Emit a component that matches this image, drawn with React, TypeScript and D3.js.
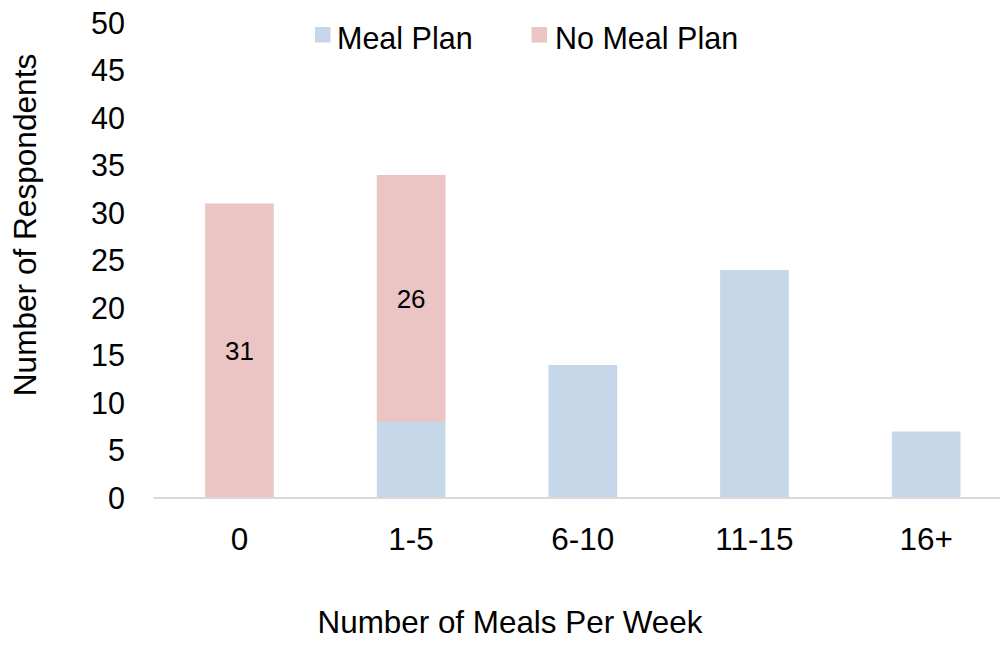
import React from "react";
import * as d3 from "d3";

// Respondents by weekly meals eaten, split by meal-plan status
const categories = ["0", "1-5", "6-10", "11-15", "16+"];
const mealPlan = [0, 8, 14, 24, 7];
const noMealPlan = [31, 26, 0, 0, 0];
const yTicks = [0, 5, 10, 15, 20, 25, 30, 35, 40, 45, 50];
const seriesNames = ["Meal Plan", "No Meal Plan"];
const seriesColors = ["#c5d7e8", "#ebc4c4"];

const W = 1000;
const H = 647;
const FONT = "'Liberation Sans', Arial, sans-serif";

export default function App() {
  const x = d3
    .scaleBand<string>()
    .domain(categories)
    .range([153.6, 1012])
    .paddingInner(0.6)
    .paddingOuter(0.3);
  const y = d3.scaleLinear().domain([0, 50]).range([498, 23]);

  const rows = categories.map((c, i) => ({
    cat: c,
    "Meal Plan": mealPlan[i],
    "No Meal Plan": noMealPlan[i],
  }));
  const stacked = d3.stack<any>().keys(seriesNames)(rows);

  return (
    <svg
      width={W}
      height={H}
      style={{ position: "absolute", left: 0, top: 0, background: "#fff" }}
      fontFamily={FONT}
    >
      {/* y tick labels */}
      {yTicks.map((t) => (
        <text
          key={t}
          x={125}
          y={y(t)}
          dy="0.36em"
          textAnchor="end"
          fontSize={30.5}
          fill="#000"
        >
          {t}
        </text>
      ))}

      {/* bars */}
      {stacked.map((layer, si) => (
        <g key={seriesNames[si]} fill={seriesColors[si]}>
          {layer.map((d, i) =>
            d[1] - d[0] > 0 ? (
              <rect
                key={i}
                x={x(categories[i])}
                y={y(d[1])}
                width={x.bandwidth()}
                height={y(d[0]) - y(d[1])}
              />
            ) : null
          )}
        </g>
      ))}

      {/* data labels on the No Meal Plan segments */}
      {stacked[1].map((d, i) =>
        noMealPlan[i] > 0 ? (
          <text
            key={i}
            x={(x(categories[i]) as number) + x.bandwidth() / 2}
            y={(y(d[0]) + y(d[1])) / 2}
            dy="0.36em"
            textAnchor="middle"
            fontSize={26}
            fill="#000"
          >
            {noMealPlan[i]}
          </text>
        ) : null
      )}

      {/* baseline */}
      <line x1={153.6} x2={1012} y1={y(0)} y2={y(0)} stroke="#d9d9d9" strokeWidth={2} />

      {/* x tick labels */}
      {categories.map((c) => (
        <text
          key={c}
          x={(x(c) as number) + x.bandwidth() / 2}
          y={550}
          textAnchor="middle"
          fontSize={31.5}
          fill="#000"
        >
          {c}
        </text>
      ))}

      {/* axis titles */}
      <text x={510} y={633} textAnchor="middle" fontSize={31.4} fill="#000">
        Number of Meals Per Week
      </text>
      <text
        transform={`translate(36,225) rotate(-90)`}
        textAnchor="middle"
        fontSize={31.6}
        fill="#000"
      >
        Number of Respondents
      </text>

      {/* legend */}
      <g>
        <rect x={315} y={27} width={15.5} height={15.5} fill={seriesColors[0]} />
        <text x={337} y={49} fontSize={30.5} fill="#000">
          {seriesNames[0]}
        </text>
        <rect x={531.5} y={27} width={15.5} height={15.5} fill={seriesColors[1]} />
        <text x={555} y={49} fontSize={30.5} fill="#000">
          {seriesNames[1]}
        </text>
      </g>
    </svg>
  );
}
